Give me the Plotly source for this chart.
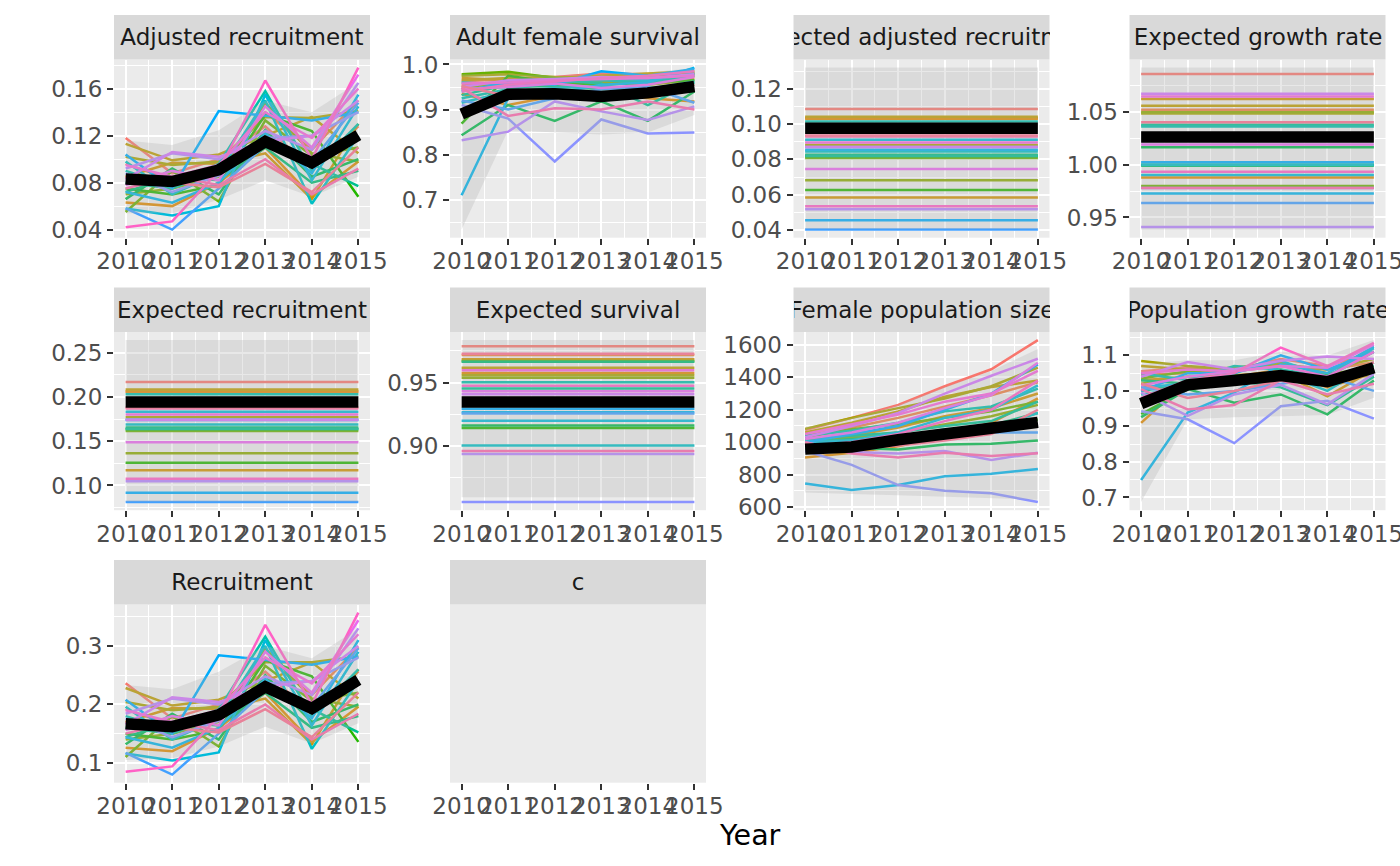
import math
import plotly.graph_objects as go

years = [2010, 2011, 2012, 2013, 2014, 2015]

panel_titles = [
    "Adjusted recruitment", "Adult female survival", "Expected adjusted recruitment",
    "Expected growth rate", "Expected recruitment", "Expected survival",
    "Female population size", "Population growth rate", "Recruitment", "c",
]

# one row per simulated group (26 groups), columns = years
adj_recruitment = [
    [0.118, 0.088, 0.100, 0.128, 0.092, 0.128],
    [0.096, 0.082, 0.094, 0.140, 0.108, 0.150],
    [0.063, 0.060, 0.080, 0.110, 0.068, 0.098],
    [0.085, 0.097, 0.096, 0.105, 0.066, 0.130],
    [0.113, 0.099, 0.104, 0.120, 0.136, 0.105],
    [0.102, 0.095, 0.098, 0.136, 0.135, 0.141],
    [0.070, 0.075, 0.085, 0.148, 0.105, 0.098],
    [0.055, 0.090, 0.064, 0.133, 0.103, 0.110],
    [0.075, 0.070, 0.078, 0.138, 0.124, 0.068],
    [0.066, 0.092, 0.070, 0.125, 0.085, 0.100],
    [0.072, 0.085, 0.082, 0.110, 0.080, 0.090],
    [0.080, 0.075, 0.090, 0.118, 0.096, 0.077],
    [0.090, 0.078, 0.096, 0.158, 0.090, 0.130],
    [0.098, 0.070, 0.088, 0.150, 0.062, 0.120],
    [0.058, 0.052, 0.060, 0.155, 0.082, 0.145],
    [0.072, 0.063, 0.080, 0.122, 0.088, 0.155],
    [0.104, 0.075, 0.141, 0.137, 0.133, 0.140],
    [0.058, 0.040, 0.075, 0.112, 0.098, 0.148],
    [0.088, 0.072, 0.086, 0.118, 0.120, 0.140],
    [0.092, 0.105, 0.100, 0.124, 0.108, 0.165],
    [0.083, 0.106, 0.102, 0.115, 0.120, 0.150],
    [0.078, 0.090, 0.082, 0.145, 0.110, 0.172],
    [0.095, 0.085, 0.095, 0.140, 0.118, 0.160],
    [0.042, 0.047, 0.090, 0.167, 0.100, 0.178],
    [0.075, 0.085, 0.078, 0.100, 0.070, 0.092],
    [0.085, 0.080, 0.076, 0.096, 0.072, 0.110],
]
adult_female_survival = [
    [0.962, 0.968, 0.972, 0.980, 0.978, 0.975],
    [0.955, 0.962, 0.965, 0.975, 0.972, 0.980],
    [0.935, 0.910, 0.930, 0.935, 0.925, 0.918],
    [0.970, 0.965, 0.958, 0.962, 0.968, 0.970],
    [0.965, 0.970, 0.970, 0.975, 0.980, 0.985],
    [0.975, 0.978, 0.972, 0.970, 0.975, 0.982],
    [0.950, 0.958, 0.955, 0.960, 0.955, 0.965],
    [0.978, 0.984, 0.970, 0.968, 0.972, 0.978],
    [0.869, 0.975, 0.960, 0.955, 0.960, 0.965],
    [0.843, 0.910, 0.875, 0.918, 0.875, 0.940],
    [0.945, 0.950, 0.952, 0.945, 0.948, 0.955],
    [0.932, 0.955, 0.965, 0.958, 0.910, 0.960],
    [0.925, 0.945, 0.960, 0.965, 0.960, 0.975],
    [0.915, 0.940, 0.948, 0.952, 0.945, 0.962],
    [0.960, 0.955, 0.962, 0.970, 0.965, 0.980],
    [0.710, 0.925, 0.935, 0.955, 0.960, 0.993],
    [0.940, 0.960, 0.955, 0.985, 0.975, 0.990],
    [0.920, 0.900, 0.925, 0.945, 0.950, 0.915],
    [0.910, 0.880, 0.785, 0.878, 0.847, 0.849],
    [0.832, 0.851, 0.918, 0.896, 0.877, 0.907],
    [0.950, 0.965, 0.968, 0.972, 0.970, 0.978],
    [0.945, 0.950, 0.958, 0.948, 0.955, 0.972],
    [0.958, 0.960, 0.965, 0.968, 0.970, 0.975],
    [0.940, 0.955, 0.962, 0.970, 0.975, 0.985],
    [0.948, 0.886, 0.903, 0.900, 0.918, 0.900],
    [0.952, 0.930, 0.940, 0.935, 0.940, 0.955],
]
exp_adj_recruitment = [
    0.1086, 0.1035, 0.1030, 0.0584, 0.1041, 0.0881, 0.0681, 0.0808, 0.0626,
    0.0817, 0.0826, 0.0820, 0.1014, 0.0845, 0.0911, 0.0854, 0.0455, 0.0402,
    0.0870, 0.0518, 0.0870, 0.0746, 0.0896, 0.0535, 0.0930, 0.0935,
]
exp_growth_rate = [
    1.0859, 1.0520, 0.9878, 1.0622, 1.0559, 1.0484, 1.0497, 0.9797, 1.0000,
    1.0165, 0.9990, 1.0378, 1.0362, 1.0000, 0.9903, 0.9728, 1.0022, 0.9638,
    0.9778, 0.9409, 1.0672, 1.0191, 1.0646, 0.9934, 0.9778, 1.0403,
]
exp_recruitment = [
    0.2170, 0.2060, 0.2062, 0.1172, 0.2084, 0.1770, 0.1364, 0.1615, 0.1258,
    0.1634, 0.1656, 0.1640, 0.2031, 0.1690, 0.1832, 0.1739, 0.0917, 0.0812,
    0.1745, 0.1049, 0.1739, 0.1488, 0.1802, 0.1075, 0.1870, 0.1880,
]
exp_survival = [
    0.9787, 0.9718, 0.9576, 0.9685, 0.9618, 0.9557, 0.9539, 0.9670, 0.9142,
    0.9162, 0.9665, 0.9453, 0.9502, 0.9005, 0.9199, 0.9267, 0.9293, 0.9257,
    0.8558, 0.8937, 0.9408, 0.9432, 0.9597, 0.9476, 0.8961, 0.9728,
]
female_pop_size = [
    [1075, 1150, 1230, 1345, 1450, 1630],
    [1040, 1090, 1150, 1220, 1290, 1370],
    [905, 935, 975, 1040, 1120, 1270],
    [1010, 1040, 1090, 1160, 1210, 1300],
    [1060, 1120, 1190, 1280, 1340, 1380],
    [1082, 1150, 1210, 1270, 1345, 1460],
    [995, 1030, 1060, 1110, 1160, 1230],
    [1030, 1080, 1110, 1150, 1190, 1250],
    [980, 990, 1010, 1050, 1080, 1140],
    [960, 965, 955, 985, 990, 1010],
    [1000, 1020, 1040, 1075, 1105, 1180],
    [1020, 1040, 1060, 1100, 1130, 1250],
    [1040, 1070, 1120, 1190, 1220, 1330],
    [1005, 1010, 1030, 1080, 1090, 1180],
    [990, 1010, 1060, 1150, 1200, 1350],
    [745, 705, 735, 790, 805, 835],
    [1000, 1050, 1100, 1200, 1300, 1480],
    [970, 980, 1000, 1020, 1060, 1060],
    [945, 860, 735, 700, 685, 630],
    [1000, 940, 930, 945, 890, 935],
    [1030, 1100, 1180, 1300, 1410, 1515],
    [1020, 1060, 1120, 1210, 1290, 1490],
    [1050, 1110, 1170, 1250, 1300, 1440],
    [975, 1000, 1050, 1130, 1200, 1380],
    [1000, 930, 905, 935, 915, 932],
    [990, 960, 980, 1010, 1050, 1200],
]
pop_growth_rate = [
    [1.055, 1.065, 1.060, 1.090, 1.070, 1.110],
    [1.045, 1.050, 1.055, 1.070, 1.060, 1.080],
    [0.910, 1.030, 1.040, 1.060, 1.010, 1.050],
    [1.030, 1.040, 1.045, 1.050, 0.985, 1.060],
    [1.070, 1.060, 1.065, 1.080, 1.050, 1.040],
    [1.084, 1.070, 1.060, 1.075, 1.060, 1.090],
    [1.020, 1.040, 1.030, 1.045, 1.050, 1.060],
    [1.035, 1.055, 1.045, 1.040, 1.030, 1.050],
    [0.935, 1.005, 1.020, 1.035, 1.045, 1.055],
    [0.926, 1.005, 0.967, 0.990, 0.934, 1.029],
    [1.030, 1.020, 1.020, 1.035, 1.030, 1.070],
    [1.000, 1.020, 1.030, 1.010, 0.960, 1.040],
    [1.050, 1.030, 1.070, 1.060, 1.040, 1.110],
    [0.990, 1.010, 1.020, 1.050, 1.000, 1.080],
    [1.010, 1.020, 1.050, 1.085, 1.040, 1.120],
    [0.749, 0.939, 0.995, 1.075, 1.050, 1.125],
    [1.000, 1.050, 1.050, 1.100, 1.060, 1.110],
    [1.010, 0.990, 1.000, 1.020, 1.040, 1.000],
    [0.943, 0.920, 0.853, 0.957, 0.972, 0.922],
    [0.995, 0.930, 0.990, 1.017, 0.962, 1.048],
    [1.040, 1.081, 1.060, 1.085, 1.097, 1.090],
    [1.015, 1.040, 1.055, 1.070, 1.065, 1.130],
    [1.050, 1.060, 1.055, 1.070, 1.040, 1.110],
    [0.980, 1.030, 1.050, 1.122, 1.070, 1.135],
    [1.005, 0.948, 0.960, 1.030, 0.990, 1.020],
    [1.020, 0.980, 1.000, 1.030, 1.020, 1.080],
]
recruitment = [
    [0.236, 0.176, 0.200, 0.256, 0.184, 0.256],
    [0.192, 0.164, 0.188, 0.280, 0.216, 0.298],
    [0.126, 0.120, 0.160, 0.220, 0.136, 0.196],
    [0.170, 0.194, 0.192, 0.210, 0.132, 0.260],
    [0.228, 0.198, 0.208, 0.240, 0.272, 0.210],
    [0.204, 0.190, 0.196, 0.272, 0.272, 0.282],
    [0.140, 0.150, 0.170, 0.296, 0.210, 0.196],
    [0.110, 0.180, 0.128, 0.266, 0.206, 0.220],
    [0.150, 0.140, 0.156, 0.276, 0.248, 0.136],
    [0.132, 0.184, 0.140, 0.250, 0.170, 0.200],
    [0.144, 0.170, 0.164, 0.220, 0.160, 0.180],
    [0.160, 0.150, 0.180, 0.236, 0.192, 0.152],
    [0.180, 0.156, 0.192, 0.316, 0.180, 0.260],
    [0.196, 0.140, 0.176, 0.300, 0.124, 0.240],
    [0.116, 0.104, 0.118, 0.310, 0.164, 0.290],
    [0.144, 0.126, 0.160, 0.244, 0.176, 0.310],
    [0.208, 0.150, 0.284, 0.276, 0.268, 0.282],
    [0.117, 0.080, 0.150, 0.224, 0.196, 0.296],
    [0.176, 0.144, 0.172, 0.236, 0.240, 0.280],
    [0.184, 0.210, 0.200, 0.248, 0.216, 0.330],
    [0.166, 0.212, 0.204, 0.230, 0.240, 0.300],
    [0.156, 0.180, 0.164, 0.290, 0.220, 0.344],
    [0.190, 0.170, 0.190, 0.280, 0.236, 0.320],
    [0.085, 0.094, 0.180, 0.336, 0.200, 0.357],
    [0.150, 0.170, 0.156, 0.200, 0.140, 0.184],
    [0.170, 0.160, 0.152, 0.192, 0.144, 0.220],
]

# mean line and interval per panel
adj_recruitment_mean = [0.0832, 0.0810, 0.0908, 0.1150, 0.0970, 0.1205]
adj_recruitment_lo = [0.054, 0.054, 0.0654, 0.082, 0.068, 0.085]
adj_recruitment_hi = [0.116, 0.112, 0.1247, 0.150, 0.140, 0.1656]
afs_mean = [0.890, 0.934, 0.935, 0.929, 0.937, 0.951]
afs_lo = [0.634, 0.854, 0.850, 0.845, 0.849, 0.888]
afs_hi = [0.978, 0.980, 0.975, 0.980, 0.982, 0.992]
ear_mean, ear_lo, ear_hi = 0.0977, 0.0405, 0.1320
egr_mean, egr_lo, egr_hi = 1.0262, 0.9385, 1.0920
er_mean, er_lo, er_hi = 0.1944, 0.0815, 0.2643
es_mean, es_lo, es_hi = 0.9348, 0.8597, 0.9835
fps_mean = [957, 970, 1015, 1045, 1075, 1122]
fps_lo = [690, 680, 672, 662, 655, 645]
fps_hi = [1090, 1150, 1230, 1340, 1440, 1575]
pgr_mean = [0.964, 1.017, 1.029, 1.043, 1.026, 1.065]
pgr_lo = [0.687, 0.920, 0.926, 0.929, 0.932, 0.981]
pgr_hi = [1.076, 1.086, 1.086, 1.110, 1.100, 1.143]
recruitment_mean = [0.167, 0.162, 0.182, 0.230, 0.193, 0.242]
recruitment_lo = [0.105, 0.108, 0.128, 0.162, 0.133, 0.168]
recruitment_hi = [0.233, 0.226, 0.256, 0.300, 0.279, 0.330]

# y tick labels per panel
y_ticks = [
    ["0.04", "0.08", "0.12", "0.16"],
    ["0.7", "0.8", "0.9", "1.0"],
    ["0.04", "0.06", "0.08", "0.10", "0.12"],
    ["0.95", "1.00", "1.05"],
    ["0.10", "0.15", "0.20", "0.25"],
    ["0.90", "0.95"],
    ["600", "800", "1000", "1200", "1400", "1600"],
    ["0.7", "0.8", "0.9", "1.0", "1.1"],
    ["0.1", "0.2", "0.3"],
    [],
]

n_groups = len(adj_recruitment)


def hue_pal(n, l=65, c=100):
    # ggplot2 default discrete palette (HCL hues)
    out = []
    xn, yn, zn = 95.047, 100.0, 108.883
    un = 4 * xn / (xn + 15 * yn + 3 * zn)
    vn = 9 * yn / (xn + 15 * yn + 3 * zn)
    for i in range(n):
        h = math.radians(15 + 360 * i / n)
        u, v = c * math.cos(h), c * math.sin(h)
        y = yn * ((l + 16) / 116) ** 3
        up = u / (13 * l) + un
        vp = v / (13 * l) + vn
        x = y * 9 * up / (4 * vp)
        z = y * (12 - 3 * up - 20 * vp) / (4 * vp)
        x, y, z = x / 100, y / 100, z / 100
        rgb = [3.2404542 * x - 1.5371385 * y - 0.4985314 * z,
               -0.9692660 * x + 1.8760108 * y + 0.0415560 * z,
               0.0556434 * x - 0.2040259 * y + 1.0572252 * z]
        res = []
        for ch in rgb:
            ch = 12.92 * ch if ch <= 0.0031308 else 1.055 * ch ** (1 / 2.4) - 0.055
            res.append(int(round(min(max(ch, 0), 1) * 255)))
        out.append("#%02X%02X%02X" % tuple(res))
    return out


colors = hue_pal(n_groups)

const = lambda v: [v] * len(years)
panels = [
    (adj_recruitment, adj_recruitment_mean, adj_recruitment_lo, adj_recruitment_hi),
    (adult_female_survival, afs_mean, afs_lo, afs_hi),
    ([const(v) for v in exp_adj_recruitment], const(ear_mean), const(ear_lo), const(ear_hi)),
    ([const(v) for v in exp_growth_rate], const(egr_mean), const(egr_lo), const(egr_hi)),
    ([const(v) for v in exp_recruitment], const(er_mean), const(er_lo), const(er_hi)),
    ([const(v) for v in exp_survival], const(es_mean), const(es_lo), const(es_hi)),
    (female_pop_size, fps_mean, fps_lo, fps_hi),
    (pop_growth_rate, pgr_mean, pgr_lo, pgr_hi),
    (recruitment, recruitment_mean, recruitment_lo, recruitment_hi),
    None,
]

# panel geometry in pixels
W, H = 1400, 866
col_left = [114, 450, 793.5, 1129.5]
col_right = [370, 706, 1049.5, 1385.5]
strip_top = [15, 287.5, 560]
row_top = [59.5, 332, 604.5]
row_bottom = [237.7, 510.2, 782.7]

FONT = "DejaVu Sans"
TICK_SIZE = 23
fig = go.Figure()
layout = {}
shapes = []
annotations = []

for k, title in enumerate(panel_titles):
    r, c = divmod(k, 4)
    sfx = "" if k == 0 else str(k + 1)
    xa, ya = "x" + sfx, "y" + sfx
    x0, x1 = col_left[c] / W, col_right[c] / W
    y0, y1 = 1 - row_bottom[r] / H, 1 - row_top[r] / H

    xaxis = dict(
        domain=[x0, x1], anchor=ya, range=[2009.75, 2015.25], automargin=False,
        tickmode="array", tickvals=years, ticktext=[str(v) for v in years],
        ticks="outside", ticklen=6, tickwidth=2, tickcolor="#333333", tickangle=0,
        tickfont=dict(family=FONT, size=TICK_SIZE, color="#4D4D4D"),
        ticklabeloverflow="allow", ticklabelstandoff=-3,
        showgrid=True, gridcolor="white", gridwidth=2.2, zeroline=False, showline=False,
        minor=dict(tickmode="array", tickvals=[y + 0.5 for y in years[:-1]],
                   showgrid=True, gridcolor="white", gridwidth=1.1, ticks=""),
        fixedrange=True,
    )

    data = panels[k]
    if data is None:
        # empty facet: keep the panel and its x axis
        xaxis["showgrid"] = False
        xaxis["minor"]["showgrid"] = False
        fig.add_trace(go.Scatter(x=years, y=[None] * len(years), mode="lines",
                                 xaxis=xa, yaxis=ya, hoverinfo="skip", showlegend=False))
        yaxis = dict(domain=[y0, y1], anchor=xa, range=[0, 1], showticklabels=False,
                     showgrid=False, zeroline=False, ticks="", fixedrange=True,
                     automargin=False)
    else:
        lines, mean, lo, hi = data
        for g, vals in enumerate(lines):
            fig.add_trace(go.Scatter(x=years, y=vals, mode="lines", xaxis=xa, yaxis=ya,
                                     line=dict(color=colors[g], width=2.5),
                                     hoverinfo="skip", showlegend=False))
        fig.add_trace(go.Scatter(x=years + years[::-1], y=list(hi) + list(lo)[::-1],
                                 mode="lines", fill="toself", xaxis=xa, yaxis=ya,
                                 fillcolor="rgba(179,179,179,0.3)", line=dict(width=0),
                                 hoverinfo="skip", showlegend=False))
        fig.add_trace(go.Scatter(x=years, y=mean, mode="lines", xaxis=xa, yaxis=ya,
                                 line=dict(color="black", width=11.5),
                                 hoverinfo="skip", showlegend=False))
        allv = [v for row in lines for v in row] + list(lo) + list(hi) + list(mean)
        vmin, vmax = min(allv), max(allv)
        pad = 0.05 * (vmax - vmin)
        tv = [float(t) for t in y_ticks[k]]
        step = tv[1] - tv[0]
        minor_vals = [tv[0] - step / 2] + [t + step / 2 for t in tv]
        yaxis = dict(
            domain=[y0, y1], anchor=xa, range=[vmin - pad, vmax + pad], automargin=False,
            tickmode="array", tickvals=tv, ticktext=y_ticks[k],
            ticks="outside", ticklen=6, tickwidth=2, tickcolor="#333333",
            tickfont=dict(family=FONT, size=TICK_SIZE, color="#4D4D4D"),
            ticklabeloverflow="allow",
            showgrid=True, gridcolor="white", gridwidth=2.2, zeroline=False, showline=False,
            minor=dict(tickmode="array", tickvals=minor_vals, showgrid=True,
                       gridcolor="white", gridwidth=1.1, ticks=""),
            fixedrange=True,
        )

    layout["xaxis" + sfx] = xaxis
    layout["yaxis" + sfx] = yaxis

    # facet strip
    shapes.append(dict(type="rect", xref="paper", yref="paper", x0=x0, x1=x1,
                       y0=1 - row_top[r] / H, y1=1 - strip_top[r] / H,
                       fillcolor="#D9D9D9", line=dict(width=0), layer="below"))
    annotations.append(dict(text=title, xref="paper", yref="paper",
                            x=(x0 + x1) / 2, y=1 - (strip_top[r] + row_top[r]) / 2 / H,
                            xanchor="center", yanchor="middle", showarrow=False,
                            width=col_right[c] - col_left[c], align="center",
                            font=dict(family=FONT, size=TICK_SIZE, color="#1A1A1A")))

annotations.append(dict(text="Year", xref="paper", yref="paper",
                        x=(col_left[0] + col_right[3]) / 2 / W, y=1 - 835 / H,
                        xanchor="center", yanchor="middle", showarrow=False,
                        font=dict(family=FONT, size=28.5, color="black")))

fig.update_layout(
    width=W, height=H, margin=dict(l=0, r=0, t=0, b=0, autoexpand=False),
    paper_bgcolor="white", plot_bgcolor="#EBEBEB",
    showlegend=False, shapes=shapes, annotations=annotations,
    font=dict(family=FONT), **layout,
)

fig.write_html("out.html", config={"displayModeBar": False},
               post_script="document.body.style.margin='0px';")
